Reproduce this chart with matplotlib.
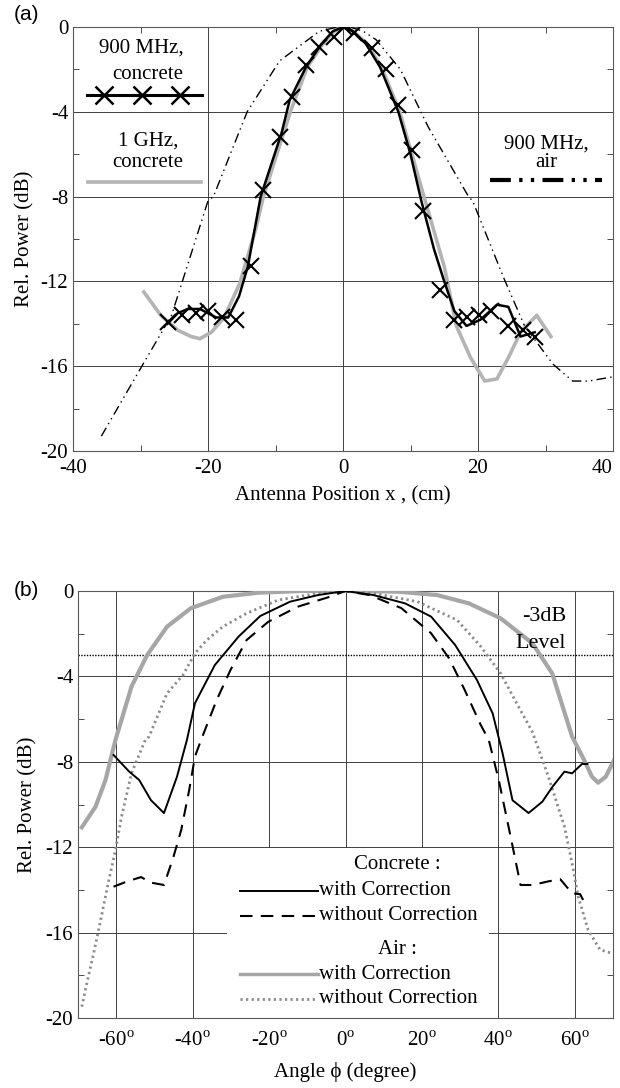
import matplotlib

matplotlib.use("Agg")
import matplotlib.pyplot as plt
from matplotlib.lines import Line2D
from matplotlib.patches import Rectangle
from matplotlib.ticker import MultipleLocator

plt.rcParams["font.family"] = ["Liberation Serif", "DejaVu Serif"]
plt.rcParams["mathtext.fontset"] = "custom"
plt.rcParams["mathtext.rm"] = "Liberation Serif"
plt.rcParams["axes.unicode_minus"] = False

# ---- panel (a): relative power vs antenna position ----
conc900_x = [-26, -24.5, -23, -21.2, -18.8, -17, -15.4, -14.1, -12.2, -9.1, -7.9, -5.5,
             -3.2, -1.5, 0, 1.5, 3.4, 5.5, 8.2, 10.0, 11.6, 13.5, 15.0, 16.5, 18.3, 20.4,
             22.8, 24.5, 26.3, 28.4]
conc900_db = [-14.0, -13.5, -13.3, -13.3, -13.7, -13.7, -12.7, -11.3, -8.0, -5.0, -3.45, -1.9,
              -0.8, -0.2, 0.0, -0.2, -0.8, -1.9, -4.0, -6.0, -8.2, -10.5, -12.0, -13.4, -14.1,
              -13.8, -13.1, -13.2, -14.6, -14.4]

# measured points (crosses)
meas900_x = [-26.0, -23.9, -21.8, -20.0, -18.0, -15.9, -13.6, -11.8, -9.4, -7.6, -5.5, -3.5,
             -1.4, 0.2, 1.6, 4.3, 6.4, 8.2, 10.2, 11.8, 14.4, 16.5, 18.3, 20.1, 21.9, 24.5,
             26.6, 28.4]
meas900_db = [-13.9, -13.6, -13.5, -13.4, -13.7, -13.8, -11.25, -7.7, -5.2, -3.3, -1.8, -0.94,
              -0.47, 0.0, -0.3, -1.0, -2.0, -3.7, -5.8, -8.7, -12.4, -13.8, -13.7, -13.6, -13.4,
              -14.1, -14.3, -14.6]

conc1g_x = [-29.5, -27, -24.5, -22.5, -21.2, -19.5, -17.6, -15.3, -12.9, -11.8, -7.8, -5.3,
            -3.0, -1.3, 0, 1.5, 3.6, 5.7, 8.4, 12.0, 15.0, 16.8, 18.9, 21.0, 22.8, 24.5, 26.3,
            28.7, 30.8]
conc1g_db = [-12.5, -13.6, -14.3, -14.6, -14.7, -14.4, -13.7, -12.1, -9.5, -8.0, -4.0, -1.9,
             -0.8, -0.2, 0.0, -0.2, -0.8, -1.9, -4.0, -8.0, -11.3, -14.1, -15.6, -16.7, -16.6,
             -15.6, -14.4, -13.6, -14.6]

air900_x = [-35.8, -29.8, -25.4, -20.0, -19.2, -14.2, -9.4, -3.5, -1.0, 1.0, 3.0, 4.9, 8.5,
            12.6, 18.6, 19.2, 23.9, 26.9, 31.1, 34.0, 36.4, 40.0]
air900_db = [-19.3, -16.0, -13.6, -8.2, -8.0, -4.0, -1.6, -0.2, -0.02, 0.0, -0.2, -0.6, -2.0,
             -4.7, -8.0, -8.2, -11.9, -14.1, -15.9, -16.7, -16.7, -16.5]

# ---- panel (b): relative power vs angle ----
cwith_ang = [-60.7, -56.6, -54.0, -50.9, -47.5, -44.1, -41.5, -39.4, -34.2, -28.0, -22.3,
             -14.5, -7.2, 0, 7.3, 15.6, 22.4, 28.7, 34.4, 38.5, 41.1, 43.7, 47.9, 51.5, 54.2,
             57.3, 59.3, 61.9, 63.3]
cwith_db = [-7.68, -8.46, -8.85, -9.8, -10.4, -8.7, -6.98, -5.26, -3.47, -2.14, -1.17, -0.5,
            -0.19, 0.0, -0.19, -0.58, -1.2, -2.53, -4.17, -5.73, -7.6, -9.8, -10.4, -9.87,
            -9.16, -8.46, -8.54, -8.1, -8.1]

cwo_ang = [-60.7, -57.1, -53.5, -50.9, -47.5, -45.1, -43.0, -40.9, -39.4, -37.8, -33.7, -30.1,
           -25.9, -20.2, -12.4, -4.1, 0, 6.3, 14.6, 22.4, 27.1, 31.2, 35.4, 37.5, 40.1, 43.2,
           45.8, 48.9, 53.1, 56.2, 59.3, 61.4, 62.4]
cwo_db = [-13.85, -13.6, -13.4, -13.66, -13.77, -12.5, -11.2, -9.32, -7.76, -6.98, -5.1, -3.7,
          -2.3, -1.44, -0.73, -0.27, 0.0, -0.19, -0.8, -1.98, -3.15, -4.64, -6.28, -6.98, -8.85,
          -11.5, -13.77, -13.77, -13.6, -13.5, -14.16, -14.2, -14.55]

awith_ang = [-69.0, -65.4, -62.8, -60.2, -56.0, -51.9, -46.7, -40.5, -32.1, -22.8, -11.4, 0,
             13.6, 24.0, 32.3, 40.6, 48.9, 54.1, 59.3, 62.4, 64.5, 66.1, 68.1, 70.5]
awith_db = [-11.07, -10.1, -8.85, -6.98, -4.48, -3.0, -1.67, -0.81, -0.27, -0.08, 0.0, 0.0,
            -0.03, -0.19, -0.58, -1.28, -2.45, -3.86, -6.82, -7.9, -8.7, -8.98, -8.7, -7.84]

awo_ang = [-69.0, -67.5, -65.9, -64.4, -62.3, -60.2, -58.6, -56.0, -52.4, -51.4, -46.7, -42.5,
           -39.4, -36.3, -32.1, -25.9, -17.6, -7.2, 0, 7.3, 18.8, 29.2, 35.4, 40.6, 44.8, 48.9,
           53.1, 57.3, 59.3, 60.9, 63.5, 66.6, 69.7]
awo_db = [-19.47, -18.22, -16.97, -15.7, -13.85, -12.13, -10.57, -8.54, -6.98, -6.82, -4.79,
          -3.93, -2.92, -2.3, -1.67, -1.05, -0.42, -0.11, 0.0, -0.11, -0.5, -1.36, -2.6, -3.86,
          -5.26, -6.6, -8.7, -11.04, -12.76, -14.32, -15.88, -16.8, -16.97]

db_ticks = [0, -4, -8, -12, -16, -20]
pos_ticks = [-40, -20, 0, 20, 40]
ang_ticks = [-60, -40, -20, 0, 20, 40, 60]

GRAY_A = "#b4b4b4"
GRAY_B = "#a6a6a6"
FS = 15


def style_axes(ax):
    ax.set_axisbelow(True)
    ax.grid(True, which="major", color="0.25", lw=0.7)
    ax.tick_params(which="both", direction="in", top=True, right=True, labelsize=FS)
    ax.tick_params(which="major", length=0)
    ax.tick_params(which="minor", length=4, width=0.7, color="0.3")
    ax.yaxis.set_minor_locator(MultipleLocator(2))
    for s in ax.spines.values():
        s.set_color("0.35")
        s.set_linewidth(0.8)


fig = plt.figure(figsize=(6.2, 10.88), dpi=100)

# ---------------- (a) ----------------
ax1 = fig.add_axes([73 / 620, 1 - 451 / 1088, 540 / 620, 424 / 1088])
style_axes(ax1)
ax1.xaxis.set_minor_locator(MultipleLocator(10))
ax1.plot(air900_x, air900_db, color="black", lw=1.0, ls=(0, (7, 3, 1, 3, 1, 3)), zorder=3)
ax1.plot(conc1g_x, conc1g_db, color=GRAY_A, lw=2.6, zorder=3)
ax1.plot(conc900_x, conc900_db, color="black", lw=1.8, zorder=4)
ax1.plot(meas900_x, meas900_db, ls="none", marker="x", ms=11, mew=1.5, color="black", zorder=5)
ax1.set_xlim(-40, 40)
ax1.set_ylim(-20, 0)
ax1.set_xticks(pos_ticks)
ax1.set_yticks(db_ticks)
ax1.tick_params(axis="x", pad=6)
ax1.get_xticklabels()[-1].set_ha("right")
ax1.set_xlabel("Antenna Position x , (cm)", fontsize=FS, labelpad=6)
ax1.set_ylabel("Rel. Power (dB)", fontsize=FS, labelpad=4)

# in-plot labels, panel (a)
ax1.text(-29.8, -1.0, "900 MHz,", fontsize=15, ha="center", va="center")
ax1.text(-28.9, -2.26, "concrete", fontsize=15, ha="center", va="center")
ax1.add_line(Line2D([-38.0, -20.9], [-3.2, -3.2], color="black", lw=2.2))
ax1.add_line(Line2D([-35.4, -29.8, -24.1], [-3.2, -3.2, -3.2], ls="none", marker="x",
                    ms=13, mew=1.8, color="black"))
ax1.text(-28.9, -5.4, "1 GHz,", fontsize=15, ha="center", va="center")
ax1.text(-28.9, -6.4, "concrete", fontsize=15, ha="center", va="center")
ax1.add_line(Line2D([-37.8, -21.0], [-7.3, -7.3], color=GRAY_A, lw=2.6))
ax1.text(30.1, -5.5, "900 MHz,", fontsize=15, ha="center", va="center")
ax1.text(30.1, -6.4, "air", fontsize=15, ha="center", va="center")
ax1.add_line(Line2D([21.8, 38.4], [-7.2, -7.2], color="black", lw=3,
                    ls=(0, (5, 2, 0.8, 2, 0.8, 2))))

fig.text(14 / 620, 1 - 14 / 1088, "(a)", fontsize=15, family=["Liberation Sans", "DejaVu Sans"],
         ha="left", va="center")

# ---------------- (b) ----------------
ax2 = fig.add_axes([78 / 620, 1 - 1018 / 1088, 535 / 620, 427 / 1088])
style_axes(ax2)
ax2.axhline(-3, color="black", lw=1.0, ls=(0, (1, 1)), zorder=1.5)
ax2.add_patch(Rectangle((-31, -20), 68.5, 7.95, facecolor="white", edgecolor="none", zorder=1.8))
ax2.plot(awith_ang, awith_db, color=GRAY_B, lw=3.0, zorder=3)
ax2.plot(awo_ang, awo_db, color="#8c8c8c", lw=2.0, ls=(0, (0.8, 1.2)), zorder=3)
ax2.plot(cwo_ang, cwo_db, color="black", lw=1.5, ls=(0, (6, 4)), zorder=4)
ax2.plot(cwith_ang, cwith_db, color="black", lw=1.4, zorder=4)
ax2.set_xlim(-70, 70)
ax2.set_ylim(-20, 0)
ax2.set_xticks(ang_ticks)
ax2.set_xticklabels([f"{t}$^{{\\mathrm{{o}}}}$" for t in ang_ticks])
ax2.set_yticks(db_ticks)
ax2.tick_params(axis="x", pad=10)
ax2.set_xlabel("Angle \u03d5 (degree)", fontsize=FS, labelpad=8)
ax2.set_ylabel("Rel. Power (dB)", fontsize=FS, labelpad=6)

ax2.text(52, -1.2, "-3dB", fontsize=16, ha="center", va="center")
ax2.text(51, -2.45, "Level", fontsize=16, ha="center", va="center")

# legend, panel (b)
ax2.text(13.6, -12.8, "Concrete :", fontsize=FS, ha="center", va="center", zorder=5)
ax2.add_line(Line2D([-27.6, -7.2], [-14.05, -14.05], color="black", lw=1.4, zorder=5))
ax2.text(-6.9, -14.05, "with Correction", fontsize=FS, ha="left", va="center", zorder=5)
ax2.add_line(Line2D([-27.6, -8.0], [-15.2, -15.2], color="black", lw=1.5, ls=(0, (6, 4)), zorder=5))
ax2.text(-6.9, -15.2, "without Correction", fontsize=FS, ha="left", va="center", zorder=5)
ax2.text(13.6, -16.8, "Air :", fontsize=FS, ha="center", va="center", zorder=5)
ax2.add_line(Line2D([-27.6, -7.2], [-17.95, -17.95], color=GRAY_B, lw=2.5, zorder=5))
ax2.text(-6.9, -17.95, "with Correction", fontsize=FS, ha="left", va="center", zorder=5)
ax2.add_line(Line2D([-27.6, -7.6], [-19.1, -19.1], color="#8c8c8c", lw=2.0, ls=(0, (0.8, 1.2)),
                    zorder=5))
ax2.text(-6.9, -19.1, "without Correction", fontsize=FS, ha="left", va="center", zorder=5)

fig.text(14 / 620, 1 - 590 / 1088, "(b)", fontsize=15, family=["Liberation Sans", "DejaVu Sans"],
         ha="left", va="center")

fig.savefig("out.png", dpi=100)
